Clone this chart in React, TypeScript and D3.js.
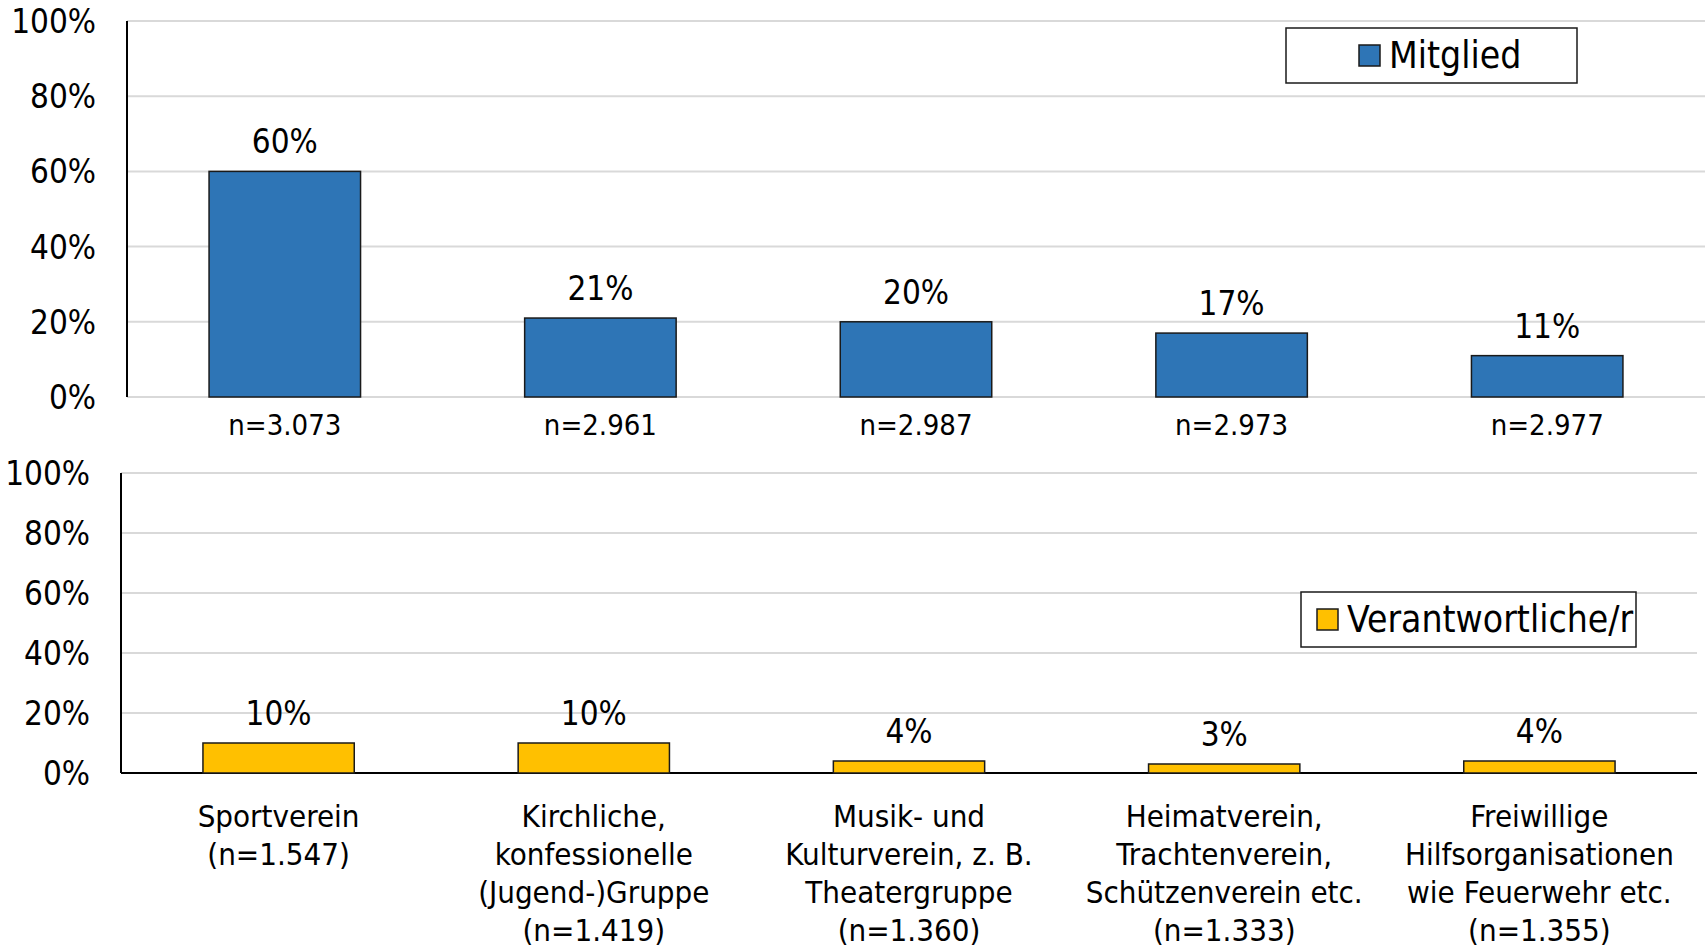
import { useEffect, useRef } from 'react';
import * as d3 from 'd3';

const categories = [
  ['Sportverein', '(n=1.547)'],
  ['Kirchliche,', 'konfessionelle', '(Jugend-)Gruppe', '(n=1.419)'],
  ['Musik- und', 'Kulturverein, z. B.', 'Theatergruppe', '(n=1.360)'],
  ['Heimatverein,', 'Trachtenverein,', 'Schützenverein etc.', '(n=1.333)'],
  ['Freiwillige', 'Hilfsorganisationen', 'wie Feuerwehr etc.', '(n=1.355)'],
];
const mitglied = [60, 21, 20, 17, 11];
const mitgliedN = ['n=3.073', 'n=2.961', 'n=2.987', 'n=2.973', 'n=2.977'];
const verantwortlich = [10, 10, 4, 3, 4];
const ticks = [0, 20, 40, 60, 80, 100];

const W = 1705;
const H = 948;
const FONT = '"DejaVu Sans Condensed", "DejaVu Sans", sans-serif';

export default function App() {
  const svgRef = useRef<SVGSVGElement>(null);

  useEffect(() => {
    if (!svgRef.current) return;
    const svg = d3.select(svgRef.current);
    svg.selectAll('*').remove();
    svg.style('font-family', FONT);

    const idx = categories.map((_, i) => i);

    // one panel = one bar chart
    const panel = (opts: {
      left: number; right: number; top: number; bottom: number;
      values: number[]; fill: string; baseColor: string; tickX: number;
      legend: { x: number; y: number; w: number; h: number; label: string; sw: number; tx: number };
    }) => {
      const x = d3.scaleBand<number>().domain(idx).range([opts.left, opts.right]).paddingInner(0.52).paddingOuter(0.26);
      const y = d3.scaleLinear().domain([0, 100]).range([opts.bottom, opts.top]);
      const g = svg.append('g');

      g.selectAll('line.grid')
        .data(ticks.filter(t => t > 0))
        .join('line')
        .attr('x1', opts.left).attr('x2', opts.right)
        .attr('y1', d => y(d)).attr('y2', d => y(d))
        .attr('stroke', '#d9d9d9').attr('stroke-width', 2);

      g.append('line')
        .attr('x1', opts.left).attr('x2', opts.right)
        .attr('y1', y(0)).attr('y2', y(0))
        .attr('stroke', opts.baseColor).attr('stroke-width', 2);

      g.append('line')
        .attr('x1', opts.left).attr('x2', opts.left)
        .attr('y1', y(100)).attr('y2', y(0))
        .attr('stroke', '#000').attr('stroke-width', 2);

      g.selectAll('text.tick')
        .data(ticks)
        .join('text')
        .attr('x', opts.tickX)
        .attr('y', d => y(d) + 12)
        .attr('text-anchor', 'end')
        .attr('font-size', 33)
        .text(d => `${d}%`);

      g.selectAll('rect.bar')
        .data(opts.values)
        .join('rect')
        .attr('x', (d, i) => x(i)!)
        .attr('y', d => y(d))
        .attr('width', x.bandwidth())
        .attr('height', d => y(0) - y(d))
        .attr('fill', opts.fill)
        .attr('stroke', '#1a1a1a').attr('stroke-width', 1.5);

      g.selectAll('text.val')
        .data(opts.values)
        .join('text')
        .attr('x', (d, i) => x(i)! + x.bandwidth() / 2)
        .attr('y', d => y(d) - 18)
        .attr('text-anchor', 'middle')
        .attr('font-size', 33)
        .text(d => `${d}%`);

      const L = opts.legend;
      const lg = g.append('g');
      lg.append('rect')
        .attr('x', L.x).attr('y', L.y).attr('width', L.w).attr('height', L.h)
        .attr('fill', '#fff').attr('stroke', '#1a1a1a').attr('stroke-width', 1.5);
      lg.append('rect')
        .attr('x', L.x + L.sw).attr('y', L.y + 17).attr('width', 21).attr('height', 21)
        .attr('fill', opts.fill).attr('stroke', '#1a1a1a').attr('stroke-width', 1.5);
      lg.append('text')
        .attr('x', L.x + L.tx).attr('y', L.y + 40)
        .attr('font-size', 37)
        .text(L.label);

      return x;
    };

    const xTop = panel({
      left: 127, right: 1705, top: 21, bottom: 397,
      values: mitglied, fill: '#2e75b6', baseColor: '#d9d9d9', tickX: 96,
      legend: { x: 1286, y: 28, w: 291, h: 55, label: 'Mitglied', sw: 73, tx: 103 },
    });

    svg.append('g').selectAll('text')
      .data(mitgliedN)
      .join('text')
      .attr('x', (d, i) => xTop(i)! + xTop.bandwidth() / 2)
      .attr('y', 435)
      .attr('text-anchor', 'middle')
      .attr('font-size', 29)
      .text(d => d);

    const xBot = panel({
      left: 121, right: 1697, top: 473, bottom: 773,
      values: verantwortlich, fill: '#ffc000', baseColor: '#000', tickX: 90,
      legend: { x: 1301, y: 592, w: 335, h: 55, label: 'Verantwortliche/r', sw: 16, tx: 46 },
    });

    const cat = svg.append('g').selectAll('text')
      .data(categories)
      .join('text')
      .attr('text-anchor', 'middle')
      .attr('font-size', 31);
    cat.selectAll('tspan')
      .data((d, i) => d.map(line => ({ line, i })))
      .join('tspan')
      .attr('x', d => xBot(d.i)! + xBot.bandwidth() / 2)
      .attr('y', (d, j) => 827 + j * 38)
      .text(d => d.line);
  }, []);

  return (
    <svg
      ref={svgRef}
      width={W}
      height={H}
      style={{ position: 'absolute', left: 0, top: 0, background: '#fff' }}
    />
  );
}
